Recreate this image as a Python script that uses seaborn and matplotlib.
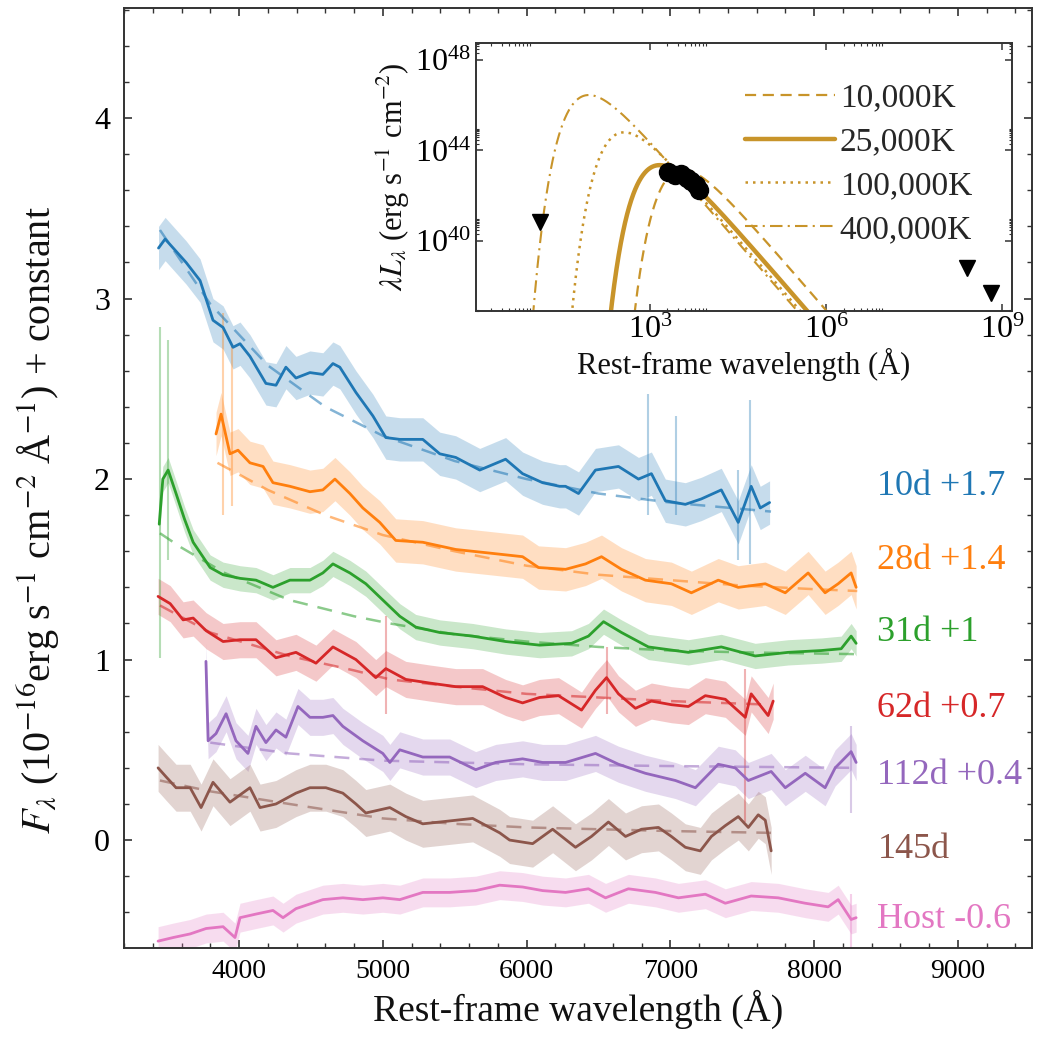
import numpy as np
import matplotlib
matplotlib.use("Agg")
import matplotlib.pyplot as plt
from matplotlib.ticker import MultipleLocator, FixedLocator, NullFormatter
import seaborn as sns

# ---------------- spectra (smoothed), wavelength in Angstrom ----------------
lam_10d = [3440, 3486, 3632, 3729, 3819, 3889, 3958, 4007, 4076, 4187, 4257, 4326, 4396, 4493,
           4583, 4653, 4701, 4813, 4931, 5021, 5118, 5278, 5396, 5507, 5674, 5854, 5972, 6111,
           6229, 6271, 6361, 6479, 6639, 6778, 6868, 6965, 7104, 7215, 7354, 7472, 7562, 7625, 7690]
flux_10d = [3.28, 3.33, 3.20, 3.10, 2.88, 2.84, 2.73, 2.75, 2.68, 2.53, 2.52, 2.62, 2.56, 2.59,
            2.58, 2.64, 2.62, 2.48, 2.35, 2.23, 2.22, 2.22, 2.14, 2.12, 2.05, 2.11, 2.03, 1.98,
            1.96, 1.96, 1.92, 2.05, 2.07, 2.00, 2.03, 1.88, 1.86, 1.89, 1.94, 1.76, 1.96, 1.84, 1.87]

lam_28d = [3840, 3875, 3937, 3993, 4076, 4167, 4236, 4354, 4493, 4583, 4667, 4771, 4861, 4979,
           5090, 5278, 5507, 5743, 5972, 6083, 6271, 6410, 6521, 6660, 6826, 7007, 7146, 7333,
           7472, 7660, 7799, 7958, 8076, 8167, 8257, 8292]
flux_28d = [2.25, 2.36, 2.14, 2.16, 2.09, 2.07, 1.98, 1.96, 1.93, 1.94, 2.00, 1.92, 1.84, 1.76,
            1.66, 1.65, 1.61, 1.59, 1.57, 1.51, 1.50, 1.53, 1.57, 1.50, 1.44, 1.42, 1.37, 1.44,
            1.40, 1.42, 1.37, 1.48, 1.37, 1.42, 1.48, 1.40]

lam_31d = [3445, 3470, 3507, 3562, 3620, 3681, 3799, 3889, 4007, 4118, 4236, 4354, 4493, 4583,
           4653, 4771, 4882, 5000, 5118, 5229, 5396, 5625, 5854, 6090, 6313, 6430, 6535, 6660,
           6847, 7125, 7354, 7590, 7819, 8049, 8188, 8257, 8292]
flux_31d = [1.75, 2.00, 2.05, 1.92, 1.78, 1.65, 1.51, 1.47, 1.45, 1.44, 1.40, 1.44, 1.44, 1.48,
            1.53, 1.48, 1.42, 1.33, 1.24, 1.18, 1.15, 1.13, 1.10, 1.08, 1.09, 1.13, 1.21, 1.15,
            1.07, 1.04, 1.07, 1.02, 1.04, 1.05, 1.06, 1.13, 1.09]

lam_62d = [3437, 3521, 3611, 3681, 3771, 3889, 4007, 4118, 4257, 4396, 4535, 4653, 4813, 4951,
           5021, 5160, 5326, 5507, 5694, 5854, 5972, 6090, 6222, 6382, 6479, 6556, 6639, 6757,
           6868, 7007, 7125, 7243, 7382, 7521, 7562, 7680, 7715]
flux_62d = [1.35, 1.31, 1.22, 1.23, 1.16, 1.10, 1.11, 1.11, 1.01, 1.04, 0.98, 1.07, 1.00, 0.90,
            0.95, 0.89, 0.87, 0.85, 0.85, 0.79, 0.76, 0.79, 0.80, 0.72, 0.83, 0.90, 0.81, 0.73,
            0.77, 0.75, 0.74, 0.80, 0.78, 0.68, 0.81, 0.69, 0.77]

lam_112d = [3770, 3785, 3840, 3910, 3979, 4062, 4118, 4187, 4257, 4326, 4410, 4493, 4583, 4653,
            4722, 4861, 5000, 5049, 5118, 5278, 5465, 5646, 5785, 5972, 6111, 6271, 6479, 6639,
            6826, 7035, 7174, 7333, 7451, 7542, 7701, 7799, 7938, 8076, 8146, 8257, 8292]
flux_112d = [0.99, 0.55, 0.59, 0.70, 0.55, 0.48, 0.63, 0.54, 0.61, 0.57, 0.74, 0.68, 0.68, 0.69,
             0.63, 0.55, 0.48, 0.43, 0.50, 0.46, 0.46, 0.39, 0.43, 0.45, 0.43, 0.43, 0.48, 0.42,
             0.37, 0.33, 0.29, 0.42, 0.40, 0.33, 0.38, 0.29, 0.37, 0.29, 0.40, 0.49, 0.43]

lam_145d = [3437, 3493, 3562, 3660, 3736, 3819, 3937, 4076, 4146, 4257, 4396, 4493, 4604, 4722,
            4813, 4882, 5049, 5160, 5278, 5396, 5625, 5813, 5882, 6042, 6181, 6340, 6451, 6569,
            6688, 6799, 6917, 7007, 7104, 7208, 7285, 7382, 7472, 7542, 7611, 7660, 7701]
flux_145d = [0.40, 0.35, 0.29, 0.29, 0.18, 0.32, 0.21, 0.29, 0.18, 0.20, 0.26, 0.29, 0.29, 0.26,
             0.20, 0.15, 0.18, 0.13, 0.09, 0.10, 0.12, 0.04, 0.00, -0.02, 0.06, -0.04, 0.02, 0.10,
             0.02, 0.06, 0.07, 0.02, -0.04, -0.06, 0.02, 0.08, 0.13, 0.07, 0.14, 0.11, -0.06]

lam_host = [3437, 3542, 3660, 3771, 3889, 3972, 4007, 4118, 4236, 4306, 4396, 4583, 4722, 4861,
            5000, 5118, 5278, 5465, 5646, 5813, 5972, 6111, 6271, 6430, 6549, 6708, 6896, 7056,
            7243, 7382, 7562, 7750, 7938, 8097, 8167, 8257, 8292]
flux_host = [-0.56, -0.54, -0.52, -0.49, -0.48, -0.54, -0.43, -0.41, -0.39, -0.43, -0.38, -0.33,
             -0.32, -0.33, -0.32, -0.33, -0.29, -0.29, -0.28, -0.25, -0.26, -0.28, -0.29, -0.27,
             -0.32, -0.27, -0.29, -0.32, -0.30, -0.35, -0.31, -0.32, -0.35, -0.37, -0.33, -0.44, -0.43]

# per-epoch scatter of the unbinned spectrum around the smoothed one
raw_scatter = [0.12, 0.12, 0.07, 0.10, 0.10, 0.13, 0.08]

# blackbody continuum fits (dashed)
fit_lam_10d = [3450, 3800, 4200, 4600, 5000, 5500, 6000, 6500, 7000, 7700]
fit_10d = [3.38, 2.97, 2.63, 2.40, 2.24, 2.10, 2.00, 1.92, 1.87, 1.82]
fit_lam_28d = [3850, 4200, 4600, 5000, 5500, 6000, 6500, 7000, 7500, 8000, 8300]
fit_28d = [2.09, 1.94, 1.80, 1.69, 1.60, 1.52, 1.47, 1.44, 1.41, 1.39, 1.38]
fit_lam_31d = [3450, 3600, 3900, 4350, 4800, 5050, 5500, 6000, 6500, 7000, 7500, 8300]
fit_31d = [1.70, 1.62, 1.48, 1.33, 1.24, 1.20, 1.14, 1.10, 1.07, 1.05, 1.04, 1.03]
fit_lam_62d = [3450, 3800, 4350, 4800, 5050, 5500, 6000, 6500, 7000, 7700]
fit_62d = [1.30, 1.15, 1.02, 0.94, 0.89, 0.85, 0.81, 0.79, 0.77, 0.75]
fit_lam_112d = [3800, 4350, 5000, 6000, 7000, 8300]
fit_112d = [0.54, 0.48, 0.44, 0.42, 0.41, 0.40]
fit_lam_145d = [3450, 3800, 4350, 5000, 5500, 6000, 6500, 7000, 7700]
fit_145d = [0.33, 0.27, 0.20, 0.12, 0.09, 0.07, 0.06, 0.05, 0.04]

# isolated noise spikes: (epoch index, wavelength, low, high)
spikes = [(2, 3450, 1.01, 2.84), (2, 3505, 1.55, 2.77), (1, 3890, 1.80, 2.92), (1, 3950, 1.85, 2.75),
          (0, 6847, 1.80, 2.47), (0, 7042, 1.80, 2.35), (0, 7556, 1.53, 2.44), (0, 7472, 1.55, 2.05),
          (3, 5021, 0.70, 1.24), (3, 6556, 0.70, 1.07), (3, 7520, 0.10, 0.95), (4, 8257, 0.15, 0.63),
          (6, 8257, -0.59, -0.30)]

epoch_labels = ["10d +1.7", "28d +1.4", "31d +1", "62d +0.7", "112d +0.4", "145d", "Host -0.6"]
label_y = [1.96, 1.55, 1.15, 0.73, 0.36, -0.055, -0.44]

# ---------------- SED panel ----------------
bb_temps = [10000, 25000, 100000, 400000]
bb_labels = ["10,000K", "25,000K", "100,000K", "400,000K"]
bb_log_peak = [43.15, 43.35, 44.8, 46.45]     # log peak of lambda*L_lambda
sed_log_lam = [3.31, 3.43, 3.54, 3.64, 3.71, 3.78, 3.84]
sed_log_L = [43.04, 42.90, 42.95, 42.77, 42.64, 42.46, 42.24]
ul_log_lam = [1.13, 8.41, 8.81]
ul_log_L = [40.83, 38.80, 37.70]

colors = ["#1f77b4", "#ff7f0e", "#2ca02c", "#d62728", "#9467bd", "#8c564b", "#e377c2"]
gold = "#c8942a"

sns.set_theme(style="ticks")
plt.rcParams["font.family"] = ["Liberation Serif", "DejaVu Serif"]
plt.rcParams["mathtext.fontset"] = "stix"
plt.rcParams["axes.edgecolor"] = "#333333"
plt.rcParams["axes.linewidth"] = 1.4

fig = plt.figure(figsize=(10.38, 10.41), dpi=100)
ax = fig.add_axes([124 / 1038, 1 - 948 / 1041, (1032 - 124) / 1038, (948 - 8) / 1041])

lam_sets = [lam_10d, lam_28d, lam_31d, lam_62d, lam_112d, lam_145d, lam_host]
flux_sets = [flux_10d, flux_28d, flux_31d, flux_62d, flux_112d, flux_145d, flux_host]
fit_lams = [fit_lam_10d, fit_lam_28d, fit_lam_31d, fit_lam_62d, fit_lam_112d, fit_lam_145d]
fits = [fit_10d, fit_28d, fit_31d, fit_62d, fit_112d, fit_145d]

for i, (lam, flux) in enumerate(zip(lam_sets, flux_sets)):
    lam = np.asarray(lam, float)
    flux = np.asarray(flux, float)
    ax.fill_between(lam, flux - raw_scatter[i], flux + raw_scatter[i],
                    color=colors[i], alpha=0.25, lw=0)
for (i, wl, lo, hi) in spikes:
    ax.vlines(wl, lo, hi, color=colors[i], alpha=0.35, lw=1.5)
for i in range(6):
    sns.lineplot(x=fit_lams[i], y=fits[i], ax=ax, color=colors[i], alpha=0.55,
                 lw=1.8, dashes=False, linestyle=(0, (6, 4)), legend=False)
for i, (lam, flux) in enumerate(zip(lam_sets, flux_sets)):
    sns.lineplot(x=lam, y=flux, ax=ax, color=colors[i], lw=2.0, legend=False, sort=False)
for txt, yy, c in zip(epoch_labels, label_y, colors):
    ax.text(8440, yy, txt, color=c, fontsize=26, va="center", ha="left")

ax.set_xlim(3200, 9515)
ax.set_ylim(-0.598, 4.61)
ax.xaxis.set_major_locator(MultipleLocator(1000))
ax.xaxis.set_minor_locator(MultipleLocator(200))
ax.yaxis.set_major_locator(MultipleLocator(1))
ax.yaxis.set_minor_locator(MultipleLocator(0.2))
ax.tick_params(which="both", direction="in", top=True, right=True, colors="#333333")
ax.tick_params(which="major", length=6, width=1.2, labelsize=20, labelcolor="black", pad=8)
ax.tick_params(which="minor", length=3.5, width=1.0)
ax.tick_params(axis="y", which="major", labelsize=23, pad=10)
ax.set_xlabel("Rest-frame wavelength (Å)", fontsize=27, color="#111111", labelpad=4)
ax.set_ylabel(r"$F_\lambda$ (10$^{-16}$erg s$^{-1}$ cm$^{-2}$ Å$^{-1}$) + constant",
              fontsize=29, color="#111111")
ax.yaxis.set_label_coords(-0.068, 0.455)

# ---------------- inset: blackbody SEDs ----------------
ins = fig.add_axes([476 / 1038, 1 - 311 / 1041, (1012 - 476) / 1038, (311 - 43) / 1041])
ins.set_facecolor("white")
log_lam_grid = np.linspace(-0.2, 9.5, 3000)
lam_grid = 10 ** log_lam_grid
hc_k = 1.4388e8  # Angstrom * K
x_peak = 3.920690395
f_peak = x_peak ** 4 / np.expm1(x_peak)
styles = [dict(ls=(0, (5, 3)), lw=1.6), dict(ls="-", lw=3.2),
          dict(ls=(0, (1, 2)), lw=1.8), dict(ls=(0, (6, 2.5, 1, 2.5)), lw=1.5)]
for T, lab, lp, st in zip(bb_temps, bb_labels, bb_log_peak, styles):
    x = hc_k / (lam_grid * T)
    with np.errstate(over="ignore", divide="ignore"):
        f = x ** 4 / np.expm1(x)
        logL = lp + np.log10(f / f_peak)
    logL[~np.isfinite(logL)] = np.nan
    sns.lineplot(x=lam_grid, y=10 ** logL, ax=ins, color=gold, label=lab, sort=False, **st)
ins.plot(10 ** np.asarray(sed_log_lam), 10 ** np.asarray(sed_log_L), "o", color="black",
         ms=13, zorder=5)
ins.plot(10 ** np.asarray(ul_log_lam), 10 ** np.asarray(ul_log_L), "v", color="black",
         ms=12, zorder=5)
ins.set_xscale("log")
ins.set_yscale("log")
ins.set_xlim(10 ** 0.04, 10 ** 9.17)
ins.set_ylim(10 ** 36.9, 10 ** 48.75)
ins.xaxis.set_major_locator(FixedLocator([1e3, 1e6, 1e9]))
ins.xaxis.set_minor_locator(FixedLocator([k * 10.0 ** m for m in (0, 3, 6) for k in range(2, 10)]))
ins.yaxis.set_major_locator(FixedLocator([1e40, 1e44, 1e48]))
ins.yaxis.set_minor_locator(FixedLocator([k * 10.0 ** m for m in (36, 40, 44, 48) for k in range(2, 10)]))
ins.xaxis.set_minor_formatter(NullFormatter())
ins.yaxis.set_minor_formatter(NullFormatter())
ins.tick_params(which="both", direction="in", top=True, right=True, colors="#333333")
ins.tick_params(which="major", length=5, width=1.1, labelsize=23, labelcolor="black")
ins.tick_params(which="minor", length=2.5, width=0.8)
ins.set_xlabel("Rest-frame wavelength (Å)", fontsize=22, color="#111111", labelpad=2)
ins.set_ylabel(r"$\lambda L_\lambda$ (erg s$^{-1}$ cm$^{-2}$)", fontsize=22, color="#111111",
               labelpad=2)
leg = ins.legend(loc="upper right", frameon=False, fontsize=24, handlelength=2.7,
                 handletextpad=0.15, labelspacing=0.4, borderaxespad=0.8)

fig.savefig("out.png", dpi=100)
